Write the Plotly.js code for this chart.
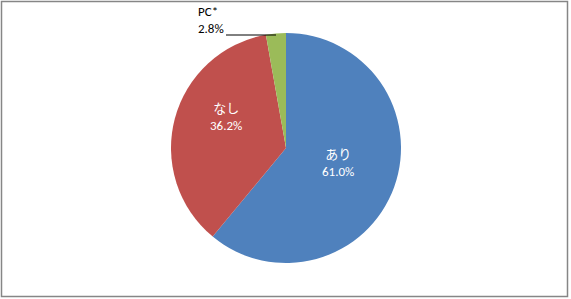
<!DOCTYPE html>
<html>
<head>
<meta charset="utf-8">
<script src="https://cdn.plot.ly/plotly-3.0.1.min.js"></script>
<style>html,body{margin:0;padding:0;background:#fff;}#chart{width:571px;height:299px;}</style>
</head>
<body>
<div id="chart"></div>
<script>
var categories = ["あり", "なし", "PC*"];
var values = [61.0, 36.2, 2.8];
var colors = ["#4F81BD", "#C0504D", "#9BBB59"];
var pctLabels = ["61.0%", "36.2%", "2.8%"];

var W = 571, H = 299;
function px(x){ return x / W; }
function py(y){ return 1 - y / H; }

var font = "Calibri, 'Noto Sans CJK JP', 'Liberation Sans', sans-serif";

var trace = {
  type: "pie",
  labels: categories,
  values: values,
  sort: false,
  direction: "clockwise",
  rotation: 0,
  textinfo: "none",
  hoverinfo: "label+percent",
  marker: { colors: colors, line: { width: 0 } },
  domain: { x: [px(171), px(401)], y: [py(263), py(33)] },
  showlegend: false
};

var annotations = [
  { x: px(338), y: py(163), text: categories[0] + "<br>" + pctLabels[0], color: "#fff", xanchor: "center", align: "center" },
  { x: px(226), y: py(117), text: categories[1] + "<br>" + pctLabels[1], color: "#fff", xanchor: "center", align: "center" },
  { x: px(196), y: py(20), text: categories[2] + "<br>" + pctLabels[2], color: "#000", xanchor: "left", align: "left" }
].map(function(a){
  return {
    xref: "paper", yref: "paper", x: a.x, y: a.y, text: a.text,
    xanchor: a.xanchor, yanchor: "middle", align: a.align, showarrow: false,
    font: { family: font, size: 13, color: a.color }
  };
});

var layout = {
  width: W, height: H,
  margin: { l: 0, r: 0, t: 0, b: 0 },
  paper_bgcolor: "#fff",
  annotations: annotations,
  shapes: [
    { type: "rect", xref: "paper", yref: "paper", x0: px(1.5), x1: px(567.5), y0: py(296.5), y1: py(1.5),
      line: { color: "#868686", width: 1.5 }, fillcolor: "rgba(0,0,0,0)" },
    { type: "line", xref: "paper", yref: "paper", x0: px(226), x1: px(276), y0: py(35), y1: py(35),
      line: { color: "#000", width: 1 } }
  ]
};

Plotly.newPlot("chart", [trace], layout, { displayModeBar: false, staticPlot: true });
</script>
</body>
</html>
